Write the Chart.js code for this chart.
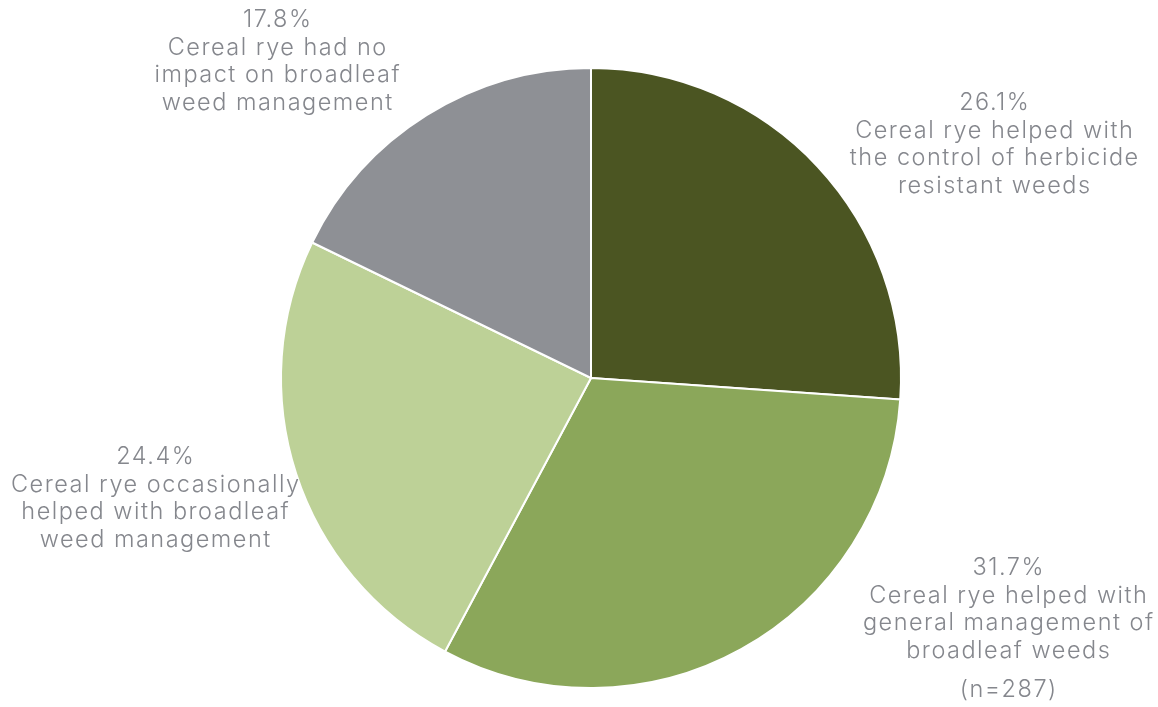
<!DOCTYPE html>
<html>
<head>
<meta charset="utf-8">
<script src="https://cdn.jsdelivr.net/npm/chart.js@4.4.1/dist/chart.umd.min.js"></script>
<style>
  html, body { margin: 0; padding: 0; background: #ffffff; }
  #wrap { width: 1158px; height: 707px; position: relative; }
</style>
</head>
<body>
<div id="wrap"><canvas id="c" width="1158" height="707"></canvas></div>
<script>
const categories = [
  "Cereal rye helped with the control of herbicide resistant weeds",
  "Cereal rye helped with general management of broadleaf weeds",
  "Cereal rye occasionally helped with broadleaf weed management",
  "Cereal rye had no impact on broadleaf weed management"
];
const percentages = [26.1, 31.7, 24.4, 17.8];
const labelLines = [
  ["Cereal rye helped with", "the control of herbicide", "resistant weeds"],
  ["Cereal rye helped with", "general management of", "broadleaf weeds"],
  ["Cereal rye occasionally", "helped with broadleaf", "weed management"],
  ["Cereal rye had no", "impact on broadleaf", "weed management"]
];
const sampleNote = "(n=287)";

const sliceColors = ["#4b5522", "#8ba75a", "#bdd197", "#8e9095"];
// label anchor (center x, first line center y)
const labelAnchors = [[994, 103], [1008, 568], [155, 457], [277, 20]];
const noteAnchor = [1008, 690];

const labelPlugin = {
  id: 'outerLabels',
  afterDraw(chart) {
    const ctx = chart.ctx;
    ctx.save();
    ctx.font = '300 23.5px Inter, "Noto Sans", sans-serif';
    ctx.fillStyle = '#85878d';
    ctx.textAlign = 'center';
    ctx.textBaseline = 'middle';
    if ('letterSpacing' in ctx) ctx.letterSpacing = '1.5px';
    const lh = 27.5;
    percentages.forEach((p, i) => {
      const [x, y] = labelAnchors[i];
      const lines = [p.toFixed(1) + '%'].concat(labelLines[i]);
      lines.forEach((t, k) => ctx.fillText(t, x + 0.75, y + k * lh));
    });
    ctx.fillText(sampleNote, noteAnchor[0] + 0.75, noteAnchor[1]);
    ctx.restore();
  }
};

new Chart(document.getElementById('c'), {
  type: 'pie',
  data: {
    labels: categories,
    datasets: [{
      data: percentages,
      backgroundColor: sliceColors,
      borderColor: '#ffffff',
      borderWidth: 2
    }]
  },
  options: {
    responsive: false,
    animation: false,
    layout: { padding: { left: 280, right: 256, top: 67, bottom: 18 } },
    plugins: { legend: { display: false }, tooltip: { enabled: false } }
  },
  plugins: [labelPlugin]
});
</script>
</body>
</html>
